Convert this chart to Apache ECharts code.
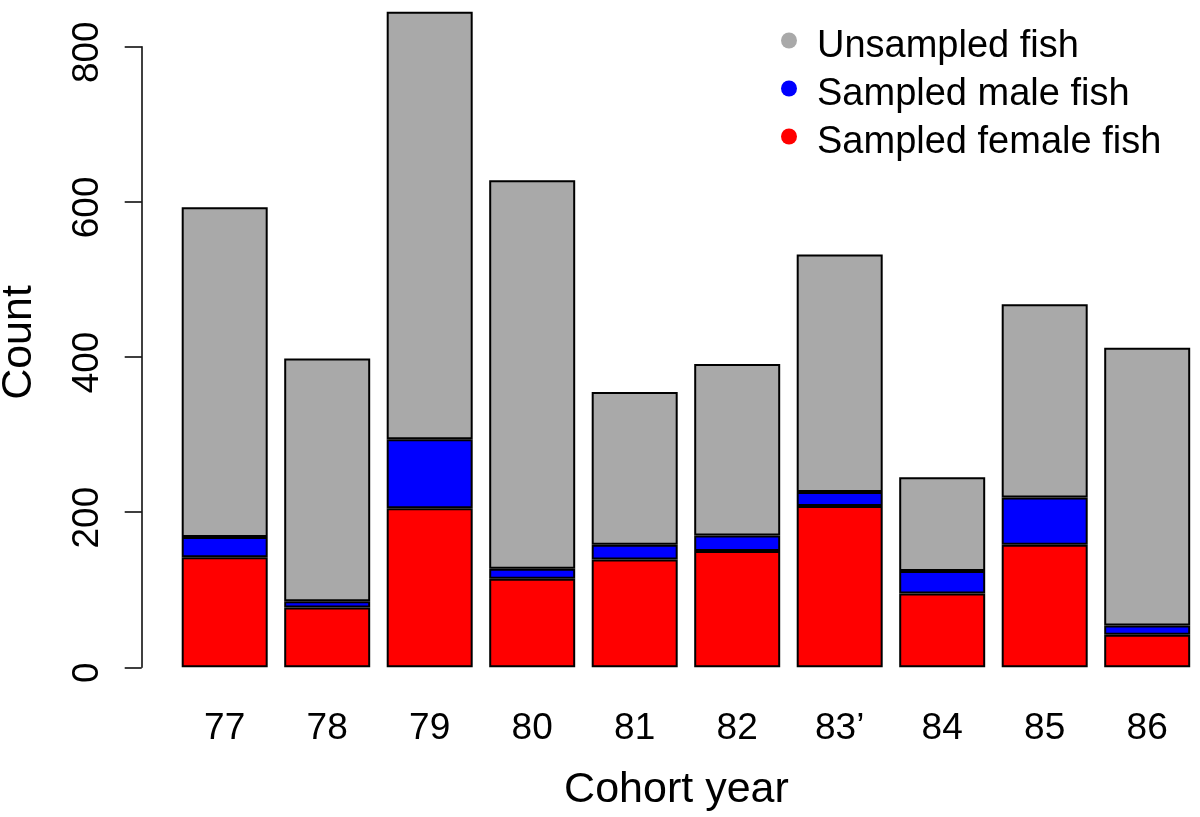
<!DOCTYPE html>
<html>
<head>
<meta charset="utf-8">
<script src="https://cdn.jsdelivr.net/npm/echarts@6/dist/echarts.min.js"></script>
<style>
html,body{margin:0;padding:0;background:#fff;}
#chart{width:1200px;height:817px;}
</style>
</head>
<body>
<div id="chart"></div>
<script>
// Data
var categories = ['77', '78', '79', '80', '81', '82', '83\u2019', '84', '85', '86'];
var femaleSampled = [142, 77, 205, 114, 139, 150, 208, 95, 158, 42];
var maleSampled = [26, 8, 89, 13, 19, 20, 18, 29, 61, 12];
var unsampled = [425, 313, 551, 501, 197, 221, 306, 121, 249, 358];
var yTicks = [0, 200, 400, 600, 800];
var seriesNames = ['Sampled female fish', 'Sampled male fish', 'Unsampled fish'];
var seriesColors = ['#FF0000', '#0000FF', '#A9A9A9'];

var FONT = 'Liberation Sans, Arial, Helvetica, sans-serif';
var chart = echarts.init(document.getElementById('chart'), null, {renderer: 'canvas'});

function barSeries(name, data, color) {
  return {
    name: name,
    type: 'bar',
    stack: 'total',
    data: data,
    barCategoryGap: '16.1%',
    clip: false,
    itemStyle: {color: color, borderColor: '#000', borderWidth: 2},
    emphasis: {disabled: true},
    silent: true
  };
}

var option = {
  animation: false,
  backgroundColor: '#fff',
  textStyle: {fontFamily: FONT},
  grid: {
    left: 173.45,
    right: 1.55,
    top: 46.7,
    bottom: 149.7,
    containLabel: false,
    outerBoundsMode: 'none'
  },
  legend: {
    show: true,
    orient: 'vertical',
    left: 781,
    top: 15,
    padding: 0,
    itemGap: -3,
    itemWidth: 16,
    itemHeight: 16,
    icon: 'circle',
    selectedMode: false,
    itemStyle: {borderWidth: 0},
    data: [seriesNames[2], seriesNames[1], seriesNames[0]],
    formatter: '{t|{name}}',
    textStyle: {
      color: '#000',
      fontFamily: FONT,
      rich: {
        t: {
          fontSize: 38,
          color: '#000',
          fontFamily: FONT,
          lineHeight: 30,
          padding: [13, 0, 0, 15]
        }
      }
    }
  },
  xAxis: {
    type: 'category',
    data: categories,
    boundaryGap: true,
    axisLine: {show: false},
    axisTick: {show: false},
    splitLine: {show: false},
    axisLabel: {
      interval: 0,
      margin: 43,
      fontSize: 37,
      color: '#000',
      fontFamily: FONT
    },
    name: 'Cohort year',
    nameLocation: 'middle',
    nameGap: 101,
    nameMoveOverlap: false,
    nameTextStyle: {fontSize: 43, color: '#000', fontFamily: FONT, padding: [0, 19, 0, 0]}
  },
  yAxis: {
    type: 'value',
    min: yTicks[0],
    max: yTicks[yTicks.length - 1],
    interval: yTicks[1] - yTicks[0],
    offset: 31.75,
    axisLine: {show: true, lineStyle: {color: '#000', width: 1.5}},
    axisTick: {show: true, length: 17, lineStyle: {color: '#000', width: 1.5}},
    splitLine: {show: false},
    axisLabel: {
      rotate: 90,
      margin: 35,
      fontSize: 37,
      color: '#000',
      fontFamily: FONT,
      padding: [0, 11, 0, 0]
    },
    name: 'Count',
    nameLocation: 'middle',
    nameGap: 100.7,
    nameMoveOverlap: false,
    nameTextStyle: {fontSize: 43, color: '#000', fontFamily: FONT, padding: [0, 0, 0, 29]}
  },
  series: [
    barSeries(seriesNames[0], femaleSampled, seriesColors[0]),
    barSeries(seriesNames[1], maleSampled, seriesColors[1]),
    barSeries(seriesNames[2], unsampled, seriesColors[2])
  ]
};
chart.setOption(option);
</script>
</body>
</html>
